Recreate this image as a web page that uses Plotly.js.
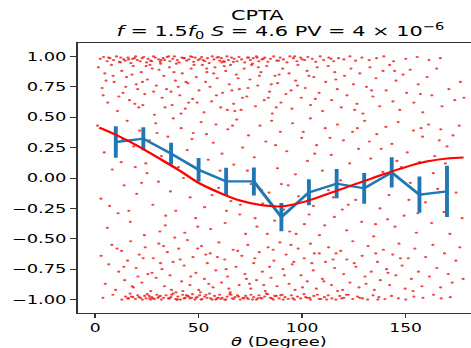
<!DOCTYPE html>
<html>
<head>
<meta charset="utf-8">
<script src="https://cdn.plot.ly/plotly-3.0.1.min.js"></script>
<style>
html,body{margin:0;padding:0;background:#fff;overflow:hidden;width:471px;height:348px;}
#wrap{width:316px;height:348px;transform:scaleX(1.4905);transform-origin:0 0;}
</style>
</head>
<body>
<div id="wrap"><div id="chart"></div></div>
<script>
// ---- binned measurements (blue) ----
const binTheta = [10, 23.3, 36.7, 50, 63.3, 76.7, 90, 103.3, 116.7, 130, 143.3, 156.7, 170];
const binCorr  = [0.296, 0.323, 0.20, 0.068, -0.028, -0.028, -0.321, -0.118, -0.047, -0.085, 0.046, -0.137, -0.11];
const binErr   = [0.13, 0.095, 0.09, 0.096, 0.113, 0.115, 0.116, 0.107, 0.12, 0.127, 0.125, 0.149, 0.21];

// ---- model curve (red) ----
const modelTheta = [2, 10, 20, 30, 40, 50, 60, 70, 80, 90, 100, 110, 120, 130, 140, 150, 160, 170, 178];
const modelCorr  = [0.415, 0.356, 0.27, 0.17, 0.07, -0.04, -0.12, -0.185, -0.222, -0.233, -0.20, -0.145, -0.085, -0.025, 0.035, 0.09, 0.135, 0.161, 0.169];

// ---- individual pair points (small red dots), by band ----
const topTheta = [2.5,4.1,5.8,7.2,8.9,10.3,11.7,12.4,13.8,14.6,
 15.9,17.3,18.1,19.6,20.4,21.8,22.7,23.5,24.9,25.6,
 26.8,28.2,29.1,30.7,31.4,32.9,33.6,34.8,36.1,37.5,
 38.3,39.7,40.6,41.9,42.8,44.2,45.3,46.1,47.6,48.4,
 49.8,50.7,51.5,53.0,54.3,55.1,56.6,57.4,58.9,60.2,
 61.0,62.5,63.7,64.4,65.9,67.2,68.6,69.5,70.8,72.3,
 73.6,75.0,76.4,77.9,79.1,80.6,82.0,83.5,84.7,86.3,
 87.8,89.4,91.0,92.7,94.1,95.8,97.5,99.3,101.2,102.8,
 104.9,106.6,108.7,110.4,112.9,115.3,117.6,120.2,123.1,125.8,
 128.9,132.4,136.0,139.5,144.2,150.1,155.6,161.3,166.8,6.5,
 16.2,27.4,35.5,43.1,52.2,59.6,66.8,74.2,81.3,88.6,
 96.4,19.0,31.9,47.0,62.0,78.3,100.0,114.0];
const topCorr = [0.98,0.995,0.96,0.985,0.97,1.0,0.955,0.99,0.975,0.965,
 0.99,0.945,0.98,1.0,0.97,0.96,0.985,0.995,0.95,0.98,
 0.965,1.0,0.99,0.975,0.955,0.985,0.97,0.995,0.96,0.98,
 1.0,0.97,0.95,0.99,0.985,0.965,0.975,1.0,0.955,0.99,
 0.97,0.98,0.995,0.96,0.985,0.945,1.0,0.975,0.99,0.965,
 0.985,0.955,1.0,0.97,0.99,0.98,0.96,0.995,0.975,0.95,
 0.99,0.97,0.985,1.0,0.96,0.975,0.99,0.955,0.98,1.0,
 0.965,0.99,0.975,0.95,1.0,0.985,0.96,0.99,0.97,0.995,
 0.98,0.955,1.0,0.97,0.99,0.96,0.985,0.975,1.0,0.965,
 0.99,0.97,0.985,1.0,0.96,0.98,0.995,0.97,0.985,0.99,
 0.975,0.96,1.0,0.985,0.97,0.995,0.955,0.99,0.98,0.965,
 1.0,0.985,0.97,0.995,0.96,0.99,0.975,0.98];

const upTheta = [1.6,3.4,4.7,6.1,7.9,9.2,10.8,12.9,13.5,15.2,
 16.6,18.4,19.9,21.1,22.3,24.0,25.3,26.5,28.7,29.6,
 30.9,32.4,33.2,34.5,35.9,37.2,38.8,39.3,40.9,42.1,
 43.6,44.8,46.4,47.1,48.9,50.2,51.8,52.6,54.0,55.5,
 56.3,57.9,59.0,60.7,61.6,63.1,64.8,65.4,66.9,68.2,
 69.7,70.5,72.0,73.3,74.8,76.1,77.5,78.6,80.1,81.7,
 82.9,84.3,85.6,86.9,88.2,89.8,90.6,92.2,93.7,95.1,
 96.9,98.0,99.6,101.5,102.4,104.1,105.7,107.3,108.2,109.9,
 111.4,112.6,114.3,115.8,117.0,118.9,120.5,121.7,123.6,124.8,
 126.5,127.9,129.4,131.1,132.8,134.2,135.7,137.5,139.1,140.6,
 142.3,143.9,145.4,147.2,148.8,150.5,152.2,154.0,156.1,158.3,
 160.4,162.7,165.0,167.6,170.9,173.8,176.5,178.2,5.3,11.5,
 17.8,23.1,27.6,36.7,45.2,53.4,62.4,71.2,79.4,87.5,
 97.8,106.4,116.3,125.4,133.6,144.7,157.2,20.6,41.5,67.5];
const upCorr = [0.91,0.74,0.86,0.62,0.93,0.79,0.55,0.88,0.70,0.83,
 0.64,0.92,0.77,0.58,0.87,0.69,0.81,0.93,0.52,0.76,
 0.89,0.66,0.84,0.73,0.91,0.60,0.80,0.94,0.68,0.86,
 0.57,0.78,0.90,0.65,0.83,0.72,0.93,0.54,0.87,0.75,
 0.63,0.91,0.82,0.58,0.70,0.88,0.77,0.93,0.61,0.85,
 0.73,0.56,0.90,0.67,0.81,0.94,0.59,0.76,0.87,0.64,
 0.92,0.71,0.53,0.84,0.78,0.62,0.90,0.69,0.86,0.57,
 0.80,0.93,0.66,0.74,0.88,0.60,0.83,0.91,0.70,0.55,
 0.79,0.92,0.64,0.87,0.73,0.58,0.84,0.68,0.90,0.77,
 0.61,0.86,0.53,0.75,0.91,0.67,0.82,0.59,0.88,0.72,
 0.93,0.63,0.80,0.56,0.85,0.70,0.89,0.62,0.77,0.54,
 0.83,0.68,0.90,0.59,0.73,0.64,0.79,0.66,0.80,0.67,
 0.85,0.60,0.90,0.71,0.62,0.79,0.92,0.66,0.84,0.58,
 0.76,0.65,0.81,0.56,0.72,0.88,0.69,0.73,0.53,0.55];

const midTheta = [1.2,2.8,4.4,5.9,8.3,9.7,11.1,12.6,14.0,15.5,
 17.0,18.7,20.1,21.5,23.8,25.1,26.2,27.9,29.3,30.6,
 32.1,33.9,35.2,36.4,37.8,39.0,40.3,41.6,43.3,44.5,
 45.9,47.4,48.6,50.0,51.2,52.9,54.6,55.8,57.1,58.4,
 59.7,61.3,62.8,64.1,65.6,67.0,68.4,69.9,71.3,72.7,
 74.1,75.4,76.9,78.2,79.7,81.0,82.5,84.0,85.3,86.7,
 88.1,89.5,91.2,92.6,94.0,95.4,96.8,98.3,99.8,101.1,
 102.6,104.0,105.5,107.0,108.4,109.8,111.2,112.7,114.1,115.6,
 117.1,118.6,120.0,121.5,123.0,124.4,125.9,127.3,128.8,130.2,
 131.7,133.2,134.6,136.1,137.6,139.0,140.5,142.0,143.4,144.9,
 146.4,147.9,149.3,150.8,152.3,153.8,155.2,156.7,158.2,159.6,
 161.1,162.6,164.1,165.5,167.0,168.5,170.0,171.4,172.9,174.4,
 175.9,177.3,7.0,13.3,22.4,31.3,42.7,53.8,63.5,73.6,
 83.2,93.3,103.4,113.5,122.3,132.5,141.3,151.6,163.4,169.2];
const midCorr = [0.43,-0.17,0.21,-0.41,0.07,0.36,-0.29,0.13,-0.06,0.47,
 -0.36,0.26,-0.13,0.39,-0.47,0.04,0.31,-0.22,0.45,-0.03,
 0.18,-0.39,0.34,-0.11,0.49,-0.27,0.09,0.41,-0.45,0.23,
 -0.16,0.37,-0.33,0.02,0.46,-0.24,0.15,-0.42,0.29,0.44,
 -0.08,0.20,-0.37,0.40,-0.19,0.11,0.48,-0.30,0.25,-0.46,
 0.35,-0.05,0.17,-0.40,0.43,-0.21,0.30,-0.12,0.47,-0.35,
 0.08,0.38,-0.26,0.22,-0.44,0.45,0.03,-0.15,0.33,-0.38,
 0.14,0.49,-0.23,0.27,-0.47,0.06,0.41,-0.10,0.19,-0.32,
 0.44,-0.02,0.31,-0.43,0.12,0.38,-0.18,0.24,-0.36,0.47,
 -0.07,0.16,-0.48,0.36,-0.25,0.05,0.42,-0.14,0.28,-0.40,
 0.46,0.09,-0.31,0.21,-0.04,0.39,-0.45,0.13,0.34,-0.20,
 0.44,-0.37,0.18,-0.09,0.40,-0.28,0.26,-0.46,0.35,-0.12,
 0.43,-0.33,-0.23,0.32,-0.04,-0.44,0.00,0.36,-0.27,0.06,
 -0.46,-0.06,-0.30,0.33,-0.22,0.30,-0.34,-0.18,0.04,0.12];

const lowTheta = [2.9,4.9,6.6,8.1,9.9,11.4,12.8,14.3,15.7,17.2,
 18.5,19.8,21.3,22.6,24.2,25.5,26.9,28.1,29.5,30.8,
 32.3,33.5,34.9,36.2,37.7,39.1,40.4,41.8,43.0,44.6,
 45.8,47.3,48.7,50.1,51.4,52.8,54.2,55.6,57.0,58.3,
 59.8,61.1,62.6,64.0,65.3,66.7,68.1,69.6,70.9,72.4,
 73.8,75.2,76.6,78.0,79.3,80.8,82.2,83.6,85.0,86.4,
 87.9,89.3,90.8,92.3,93.7,95.2,96.6,98.1,99.5,101.0,
 102.5,104.0,105.4,106.9,108.3,109.8,111.3,112.8,114.2,115.7,
 117.2,118.7,120.1,121.6,123.1,124.5,126.0,127.5,129.0,130.4,
 131.9,133.4,134.9,136.4,137.8,139.3,140.8,142.3,143.8,145.3,
 146.8,148.3,149.8,151.3,152.8,154.5,156.2,157.9,159.7,161.5,
 163.2,165.1,166.9,168.8,170.6,172.5,174.3,176.2,177.8,10.6,
 20.7,31.6,42.4,53.5,63.3,74.6,84.3,94.6,104.7,116.4];
const lowCorr = [-0.64,-0.87,-0.71,-0.55,-0.92,-0.77,-0.60,-0.84,-0.68,-0.52,
 -0.90,-0.74,-0.63,-0.86,-0.57,-0.79,-0.93,-0.66,-0.82,-0.54,
 -0.75,-0.89,-0.61,-0.80,-0.69,-0.94,-0.58,-0.85,-0.72,-0.51,
 -0.88,-0.65,-0.78,-0.92,-0.56,-0.83,-0.70,-0.62,-0.90,-0.76,
 -0.53,-0.86,-0.67,-0.81,-0.94,-0.59,-0.73,-0.88,-0.64,-0.79,
 -0.55,-0.91,-0.70,-0.84,-0.61,-0.77,-0.93,-0.57,-0.82,-0.68,
 -0.89,-0.53,-0.75,-0.63,-0.87,-0.71,-0.92,-0.58,-0.80,-0.66,
 -0.85,-0.54,-0.76,-0.91,-0.62,-0.83,-0.69,-0.57,-0.88,-0.74,
 -0.93,-0.60,-0.79,-0.67,-0.86,-0.52,-0.73,-0.90,-0.64,-0.81,
 -0.56,-0.77,-0.92,-0.69,-0.84,-0.59,-0.75,-0.88,-0.63,-0.80,
 -0.54,-0.72,-0.91,-0.66,-0.83,-0.58,-0.77,-0.89,-0.65,-0.81,
 -0.55,-0.74,-0.90,-0.62,-0.79,-0.86,-0.68,-0.57,-0.83,-0.58,
 -0.81,-0.70,-0.93,-0.63,-0.75,-0.87,-0.73,-0.55,-0.70,-0.62];

const botTheta = [3.8,8.6,12.9,14.7,15.8,16.9,18.3,19.5,20.6,21.9,
 22.8,23.9,25.2,26.4,27.3,28.6,29.8,30.9,32.0,33.1,
 34.3,35.4,36.6,37.7,38.9,40.0,41.2,42.3,43.5,44.7,
 45.8,47.0,48.2,49.3,50.5,51.7,52.9,54.1,55.3,56.5,
 57.7,58.9,60.1,61.4,62.6,63.8,65.1,66.3,67.6,68.8,
 70.1,71.4,72.7,74.0,75.3,76.6,77.9,79.2,80.6,81.9,
 83.3,84.7,86.1,87.5,88.9,90.4,91.8,93.3,94.8,96.3,
 97.8,99.3,100.9,102.5,104.1,105.7,107.4,109.1,110.8,112.6,
 114.4,116.3,118.2,120.2,122.3,124.5,126.8,129.2,131.7,134.3,
 137.1,140.0,143.2,146.5,150.1,154.0,158.4,163.5,167.2,171.6,
 24.6,31.5,39.4,46.6,53.6,60.8,69.3,78.6,89.7,101.7,
 17.5,28.1,44.1,58.3,73.4,86.8,108.2,121.4];
const botCorr = [-0.985,-0.96,-1.0,-0.975,-0.99,-0.95,-0.98,-0.995,-0.965,-0.985,
 -1.0,-0.97,-0.955,-0.99,-0.98,-0.995,-0.96,-0.975,-1.0,-0.985,
 -0.965,-0.99,-0.98,-0.95,-0.995,-0.975,-1.0,-0.96,-0.985,-0.97,
 -0.99,-0.955,-1.0,-0.98,-0.965,-0.995,-0.975,-0.985,-0.95,-1.0,
 -0.97,-0.99,-0.96,-0.985,-1.0,-0.975,-0.955,-0.99,-0.98,-0.965,
 -1.0,-0.985,-0.97,-0.995,-0.96,-0.98,-1.0,-0.965,-0.99,-0.975,
 -0.955,-0.985,-1.0,-0.97,-0.99,-0.96,-0.98,-0.995,-0.965,-1.0,
 -0.975,-0.99,-0.955,-0.985,-1.0,-0.97,-0.96,-0.995,-0.98,-0.965,
 -0.99,-1.0,-0.97,-0.985,-0.96,-0.995,-0.975,-0.99,-1.0,-0.965,
 -0.98,-0.995,-0.97,-0.99,-1.0,-0.975,-0.985,-0.96,-0.99,-0.98,
 -0.99,-0.97,-1.0,-0.985,-0.96,-0.995,-0.975,-0.99,-0.965,-0.98,
 -0.975,-0.99,-0.965,-1.0,-0.985,-0.97,-0.995,-0.96];

const extraTheta = [3.9,8.7,14.8,19.2,24.6,28.3,33.8,38.1,43.9,49.3,
 53.9,58.6,63.9,69.1,73.9,78.9,83.7,88.9,12.2,31.7,
 47.8,61.2,75.6,22.9,40.2,57.3,66.1,85.1,94.7,103.3,
 10.2,16.3,24.5,34.1,46.8,56.5,66.4,77.3,87.2,97.1,
 106.1,115.1,126.7,135.5,145.8,155.9,166.3,19.4,38.5,60.4,
 80.4,100.6,119.4,138.2,157.5,29.9,49.6,70.2,90.0,110.9,
 13.9,17.9,23.2,27.5,33.1,36.9,41.1,46.2,49.6,54.9,
 59.1,64.6,68.9,73.1,77.2,81.5,86.0,91.5,96.0,100.2,
 105.9,110.5,115.0,119.6,125.2,130.9,135.6,141.5,147.5,153.6,
 26.1,37.0,50.9,65.7,82.7,
 16.1,21.2,26.9,30.3,35.9,39.8,43.0,48.7,51.2,55.8,
 59.5,63.2,67.0,71.8,76.0,80.0,85.4,90.9,95.5,103.6,
 111.9,119.2,127.9,136.6,45.2];
const extraCorr = [0.68,0.84,0.75,0.61,0.92,0.71,0.58,0.87,0.79,0.62,
 0.90,0.68,0.56,0.82,0.74,0.91,0.66,0.85,0.95,0.94,
 0.93,0.95,0.93,0.79,0.75,0.86,0.72,0.77,0.72,0.84,
 0.24,-0.27,0.12,-0.31,0.32,-0.14,0.43,-0.33,0.27,-0.46,
 0.20,-0.16,0.41,-0.38,0.14,-0.29,0.31,0.09,-0.49,0.06,
 -0.10,0.38,-0.26,0.24,0.41,0.37,-0.40,-0.22,-0.05,-0.39,
 -0.73,-0.89,-0.66,-0.78,-0.56,-0.92,-0.67,-0.81,-0.58,-0.87,
 -0.65,-0.91,-0.60,-0.83,-0.66,-0.88,-0.59,-0.80,-0.69,-0.90,
 -0.62,-0.85,-0.67,-0.92,-0.70,-0.87,-0.62,-0.78,-0.66,-0.93,
 -0.97,-0.96,-0.94,-0.96,-0.95,
 -0.99,-0.98,-1.0,-0.985,-0.99,-1.0,-0.99,-0.985,-1.0,-0.99,
 -0.985,-1.0,-0.995,-0.99,-1.0,-0.985,-0.99,-1.0,-0.99,-0.985,
 -1.0,-0.99,-0.985,-1.0,-0.975];

// ---- axis ticks & text ----
const xTicks = [0, 50, 100, 150];
const yTicks = [-1, -0.75, -0.5, -0.25, 0, 0.25, 0.5, 0.75, 1];
const titleLine1 = 'CPTA';
const titleLine2 = '<i>f</i> = 1.5<i>f</i><sub>0</sub> <i>S</i> = 4.6 PV = 4 × 10<sup>−6</sup>';
const xLabel = '<i>θ</i> (Degree)';

const dotX = [].concat(topTheta, upTheta, midTheta, lowTheta, botTheta, extraTheta);
const dotY = [].concat(topCorr, upCorr, midCorr, lowCorr, botCorr, extraCorr);

const FONT = 'DejaVu Sans, sans-serif';

const traces = [
  {x: dotX, y: dotY, mode: 'markers', type: 'scatter',
   marker: {size: 2.2, color: 'rgba(235,25,25,0.8)'}, hoverinfo: 'skip'},
  {x: binTheta, y: binCorr, mode: 'lines', type: 'scatter',
   line: {color: '#1f77b4', width: 2.3},
   error_y: {type: 'data', array: binErr, visible: true, thickness: 2.6, width: 0, color: '#1f77b4'}},
  {x: modelTheta, y: modelCorr, mode: 'lines', type: 'scatter',
   line: {color: 'red', width: 2, shape: 'spline', smoothing: 1}}
];

const axisCommon = {
  showgrid: false, zeroline: false, showline: true, linecolor: '#333', linewidth: 1,
  ticks: 'outside', ticklen: 4, tickwidth: 1, tickcolor: '#333',
  tickfont: {family: FONT, size: 11.5, color: '#000'}
};

const layout = {
  width: 316, height: 348,
  margin: {l: 52, r: 0, t: 43, b: 35, pad: 0},
  paper_bgcolor: '#fff', plot_bgcolor: '#fff',
  showlegend: false,
  xaxis: Object.assign({}, axisCommon, {range: [-8.5, 181.6], tickvals: xTicks, mirror: true}),
  yaxis: Object.assign({}, axisCommon, {range: [-1.11, 1.11], tickvals: yTicks, tickformat: '.2f', mirror: false,
                                        tickfont: {family: FONT, size: 12, color: '#000'}}),
  annotations: [
    {text: titleLine1, xref: 'paper', yref: 'paper', x: 0.459, y: 1.1036, showarrow: false,
     xanchor: 'center', yanchor: 'middle', font: {family: FONT, size: 14, color: '#000'}},
    {text: titleLine2, xref: 'paper', yref: 'paper', x: 0.5145, y: 1.043, showarrow: false,
     xanchor: 'center', yanchor: 'middle', font: {family: FONT, size: 14, color: '#000'}},
    {text: xLabel, xref: 'paper', yref: 'paper', x: 0.5118, y: -0.106, showarrow: false,
     xanchor: 'center', yanchor: 'middle', font: {family: FONT, size: 12, color: '#000'}}
  ]
};

Plotly.newPlot('chart', traces, layout, {displayModeBar: false, staticPlot: true});
</script>
</body>
</html>
